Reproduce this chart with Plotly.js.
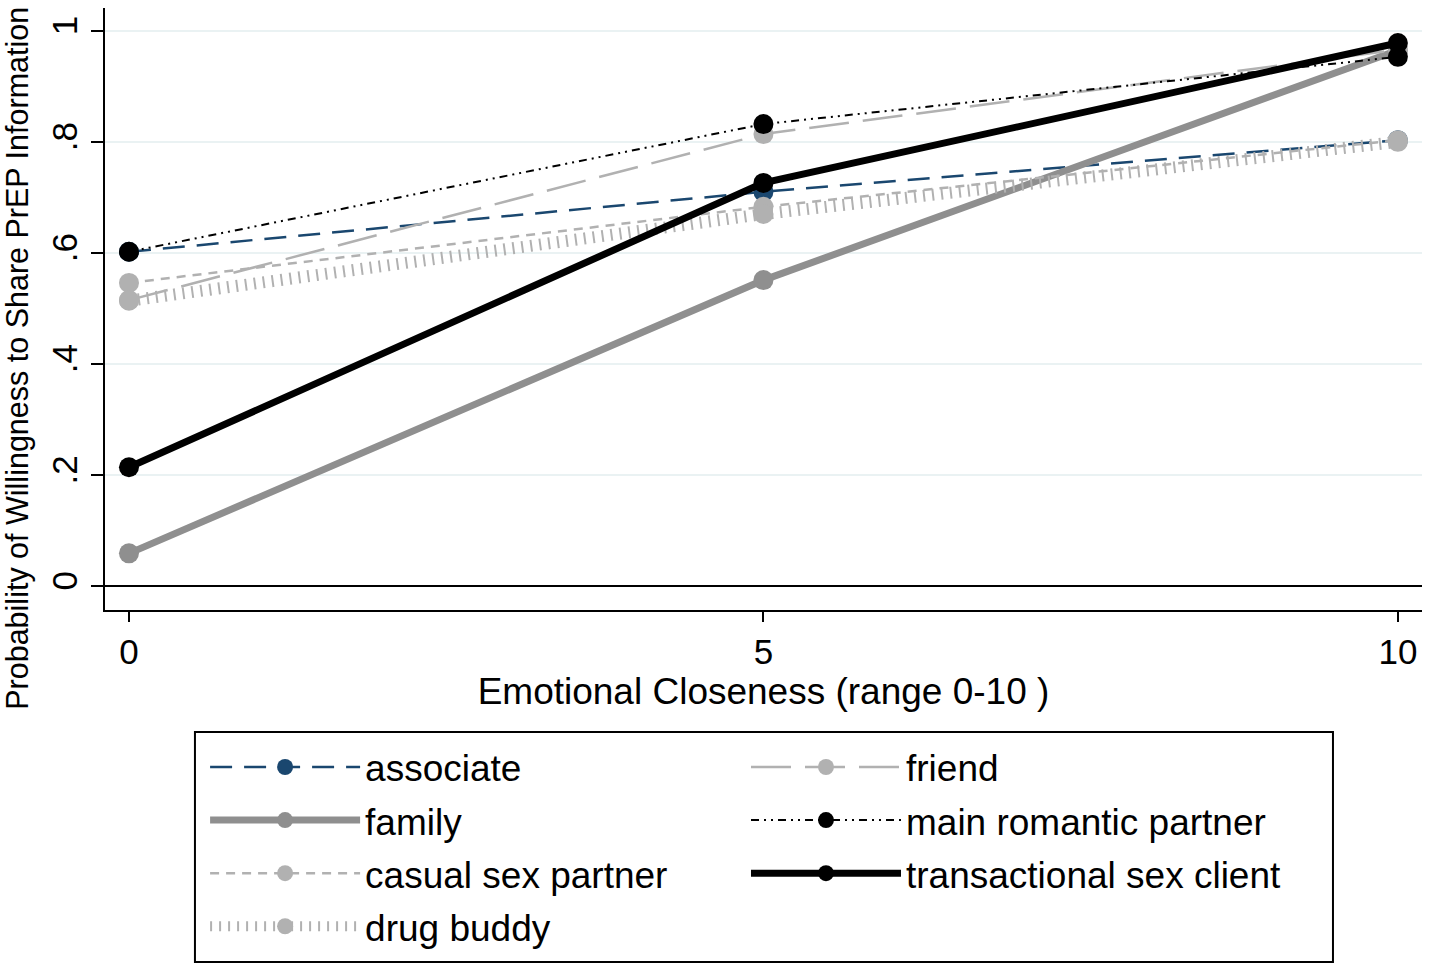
<!DOCTYPE html>
<html>
<head>
<meta charset="utf-8">
<script src="https://cdn.plot.ly/plotly-3.0.1.min.js"></script>
<style>
  html, body { margin: 0; padding: 0; background: #fff; }
  #grafico { width: 1429px; height: 968px; }
</style>
</head>
<body>
<div id="grafico"></div>
<script>
// emotional closeness values
let closeness = [0, 5, 10];

// predicted probabilities
let associate = [0.602, 0.710, 0.803];
let family = [0.059, 0.551, 0.965];
let casualSex = [0.546, 0.683, 0.803];
let drugBuddy = [0.514, 0.670, 0.800];
let friend = [0.515, 0.814, 0.966];
let mainPartner = [0.602, 0.832, 0.953];
let transactional = [0.214, 0.726, 0.978];

let yTickVals = [0, 0.2, 0.4, 0.6, 0.8, 1];
let yTickText = ['0', '.2', '.4', '.6', '.8', '1'];
let xTickVals = [0, 5, 10];

function serie(name, y, color, width, dash, leg) {
    return {
        x: closeness,
        y: y,
        name: name,
        type: 'scatter',
        mode: 'lines+markers',
        line: { color: color, width: width, dash: dash },
        marker: { color: color, size: 20 },
        legend: leg,
        legendgroup: name
    };
}

let traces = [
    serie('associate', associate, '#1a476f', 2.5, '22px,12px', 'legend'),
    serie('family', family, '#8f8f8f', 7, 'solid', 'legend'),
    serie('casual sex partner', casualSex, '#b1b1b1', 2.5, '9px,7px', 'legend'),
    serie('drug buddy', drugBuddy, '#b1b1b1', 12, '2px,7px', 'legend'),
    serie('friend', friend, '#b1b1b1', 2.5, '40px,14px', 'legend2'),
    serie('main romantic partner', mainPartner, '#000000', 2, '8px,5px,2px,5px,2px,5px', 'legend2'),
    serie('transactional sex client', transactional, '#000000', 7, 'solid', 'legend2')
];

// shared legend look, one legend per column
function legendCol(x) {
    return {
        x: x,
        y: -0.21,
        xanchor: 'left',
        yanchor: 'top',
        borderwidth: 0,
        bgcolor: 'rgba(0,0,0,0)',
        itemwidth: 150,
        tracegroupgap: 2,
        traceorder: 'grouped',
        font: { size: 37 }
    };
}

let layout = {
    width: 1429,
    height: 968,
    paper_bgcolor: '#ffffff',
    plot_bgcolor: '#ffffff',
    font: { family: '"Liberation Sans", Arial, sans-serif', color: '#000' },
    margin: { l: 105, r: 7, t: 8, b: 358 },
    showlegend: true,
    legend: legendCol(0.076),
    legend2: legendCol(0.4867),
    xaxis: {
        range: [-0.189, 10.19],
        tickvals: xTickVals,
        ticks: 'outside',
        ticklen: 10,
        tickwidth: 2,
        tickcolor: '#000',
        showline: true,
        linecolor: '#000',
        linewidth: 2,
        showgrid: false,
        zeroline: false,
        tickfont: { size: 35 },
        title: { text: 'Emotional Closeness (range 0-10 )', font: { size: 37 }, standoff: 8 }
    },
    yaxis: {
        range: [-0.043, 1.041],
        tickvals: yTickVals,
        ticktext: yTickText,
        tickangle: -90,
        ticks: 'outside',
        ticklen: 12,
        tickwidth: 2,
        tickcolor: '#000',
        showline: true,
        linecolor: '#000',
        linewidth: 2,
        showgrid: true,
        gridcolor: '#eaf2f3',
        gridwidth: 2,
        zeroline: true,
        zerolinecolor: '#000',
        zerolinewidth: 2,
        tickfont: { size: 35 }
    },
    shapes: [{
        // frame around the two legend columns
        type: 'rect',
        xref: 'paper', yref: 'paper',
        x0: 0.0683, x1: 0.9324,
        y0: -0.5847, y1: -0.2027,
        line: { color: '#000', width: 2 },
        fillcolor: 'rgba(0,0,0,0)'
    }],
    annotations: [{
        text: 'Probability of Willingness to Share PrEP Information',
        xref: 'paper', yref: 'paper',
        x: -0.067, y: 0.4186,
        xanchor: 'center', yanchor: 'middle',
        textangle: -90,
        showarrow: false,
        font: { size: 30.5 }
    }]
};

Plotly.newPlot('grafico', traces, layout, { displayModeBar: false });
</script>
</body>
</html>
